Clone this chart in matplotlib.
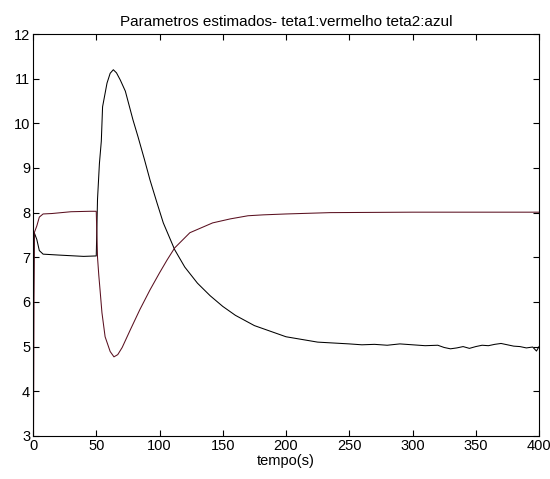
import numpy as np
import matplotlib.pyplot as plt

plt.rcParams['font.family'] = ['Liberation Sans', 'DejaVu Sans']

# teta1 (vermelho) - curva que sobe para 8
t1 = [0, 1, 3, 5, 8, 15, 30, 45, 50, 51, 52, 53, 54.5, 57, 61, 64, 67, 70.5, 77, 84.5,
      92.5, 100, 106, 112, 124, 142, 156, 170, 182, 200, 235, 300, 400]
teta1 = [0, 7.55, 7.7, 7.9, 7.97, 7.98, 8.02, 8.03, 8.03, 7.0, 6.6, 6.27, 5.76, 5.22, 4.89, 4.77, 4.82, 4.98, 5.38, 5.83,
         6.27, 6.65, 6.94, 7.21, 7.55, 7.77, 7.86, 7.93, 7.95, 7.97, 8.0, 8.01, 8.01]

# teta2 (azul) - curva com pico em ~11.2
t2 = [0, 1, 3, 5, 8, 20, 40, 50, 51, 52.5, 54, 55, 58.5, 61, 63.5, 66, 69, 73, 79, 83, 88, 92.5, 98, 103, 112,
      120, 130, 140, 150, 160, 175, 200, 225, 250, 260, 270, 280, 290, 300, 310, 320, 325, 330, 335,
      340, 345, 350, 355, 360, 365, 370, 375, 380, 385, 390, 395, 398, 400]
teta2 = [5.2, 7.55, 7.4, 7.15, 7.07, 7.05, 7.02, 7.03, 8.3, 9.1, 9.6, 10.37, 10.9, 11.12, 11.2, 11.13, 10.97, 10.72, 10.08, 9.7, 9.2, 8.73, 8.22, 7.77, 7.17,
         6.78, 6.42, 6.14, 5.9, 5.7, 5.47, 5.22, 5.1, 5.06, 5.04, 5.05, 5.03, 5.06, 5.04, 5.02, 5.03, 4.98, 4.95, 4.97,
         5.0, 4.96, 5.0, 5.03, 5.02, 5.05, 5.07, 5.04, 5.01, 5.0, 4.97, 4.99, 4.9, 5.0]

fig = plt.figure(figsize=(5.5, 4.79), dpi=100)
ax = fig.add_axes([0.06, 0.09, 0.92, 0.839])

ax.plot(t2, teta2, color='k', lw=0.75)
ax.plot(t1, teta1, color='#5a1020', lw=0.75)

ax.set_xlim(0, 400)
ax.set_ylim(3, 12)
ax.set_xticks(np.arange(0, 401, 50))
ax.set_yticks(np.arange(3, 13, 1))
ax.tick_params(direction='in', top=True, right=True, labelsize=10.5, length=4, pad=2)
ax.set_title('Parametros estimados- teta1:vermelho teta2:azul', fontsize=11, pad=6)
ax.set_xlabel('tempo(s)', fontsize=10.5, labelpad=1)

fig.savefig('out.png', dpi=100)
